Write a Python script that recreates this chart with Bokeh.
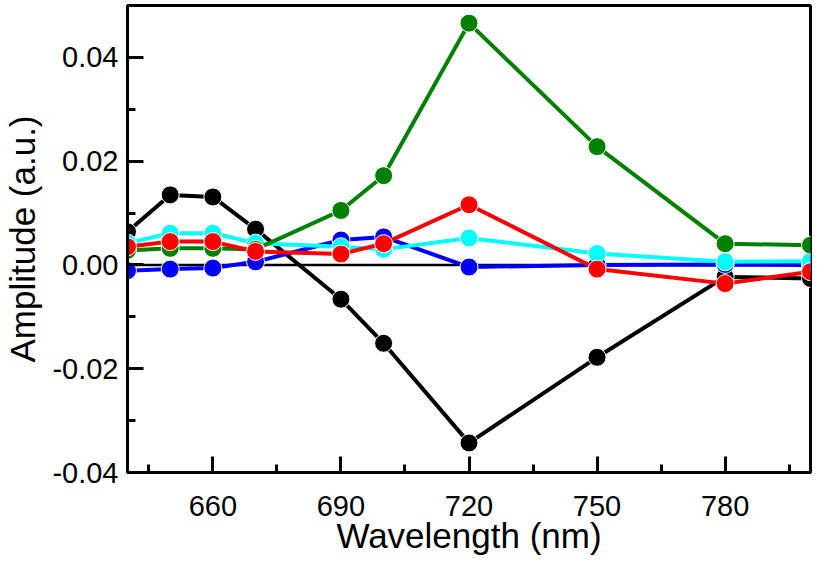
from bokeh.plotting import figure
from bokeh.models import FixedTicker, PrintfTickFormatter, Span, Range1d
from bokeh.embed import file_html
from bokeh.resources import INLINE

wavelength = [640, 650, 660, 670, 690, 700, 720, 750, 780, 800]
black_s = [0.0064, 0.0135, 0.0131, 0.0069, -0.0066, -0.0151, -0.0343, -0.0178, -0.0023, -0.0026]
blue_s = [-0.0011, -0.0008, -0.0006, 0.0006, 0.0048, 0.0054, -0.0004, 0.0000, 0.0001, 0.0000]
cyan_s = [0.0042, 0.0061, 0.0061, 0.0042, 0.0035, 0.0030, 0.0052, 0.0022, 0.0006, 0.0007]
green_s = [0.0028, 0.0032, 0.0032, 0.0030, 0.0105, 0.0172, 0.0466, 0.0228, 0.0041, 0.0038]
red_s = [0.0035, 0.0045, 0.0045, 0.0026, 0.0021, 0.0041, 0.0116, -0.0008, -0.0036, -0.0013]

x_major = [660, 690, 720, 750, 780]
x_minor = [645, 660, 675, 690, 705, 720, 735, 750, 765, 780, 795]
y_major = [-0.04, -0.02, 0.0, 0.02, 0.04]
y_minor = [-0.03, -0.01, 0.01, 0.03]

series = [
    (black_s, "black"),
    (blue_s, "#0000FF"),
    (cyan_s, "#00FFFF"),
    (green_s, "#008000"),
    (red_s, "#FF0000"),
]

p = figure(width=814, height=557, output_backend="svg", toolbar_location=None,
           x_range=Range1d(640, 800), y_range=Range1d(-0.04, 0.05),
           min_border_top=5, min_border_right=4, min_border_left=0, min_border_bottom=0)

p.grid.visible = False
p.outline_line_color = "black"
p.outline_line_width = 3
p.background_fill_color = "white"
p.border_fill_color = "white"

zero = Span(location=0, dimension="width", line_color="black", line_width=2.5, level="underlay")
p.add_layout(zero)

for ys, col in series:
    p.line(wavelength, ys, line_color=col, line_width=4)
    p.scatter(wavelength, ys, size=18, fill_color=col, line_color="white", line_width=1)

font = "Liberation Sans"
for ax in (p.xaxis[0], p.yaxis[0]):
    ax.axis_line_width = 3
    ax.major_tick_line_width = 3
    ax.minor_tick_line_width = 3
    ax.major_tick_in = 16
    ax.major_tick_out = 0
    ax.minor_tick_in = 8
    ax.minor_tick_out = 0
    ax.major_label_text_font = font
    ax.major_label_text_font_size = "29px"
    ax.major_label_text_color = "black"
    ax.axis_label_text_font = font
    ax.axis_label_text_font_size = "35px"
    ax.axis_label_text_font_style = "normal"
    ax.axis_label_text_color = "black"

p.xaxis.ticker = FixedTicker(ticks=x_major, minor_ticks=x_minor)
p.yaxis.ticker = FixedTicker(ticks=y_major, minor_ticks=y_minor)
p.yaxis.formatter = PrintfTickFormatter(format="%.2f")
p.xaxis.axis_label = "Wavelength (nm)"
p.yaxis.axis_label = "Amplitude (a.u.)"
p.xaxis.major_label_standoff = 23
p.yaxis.major_label_standoff = 9
p.xaxis.axis_label_standoff = -3
p.yaxis.axis_label_standoff = 7

open("out.html", "w").write(file_html(p, INLINE))
